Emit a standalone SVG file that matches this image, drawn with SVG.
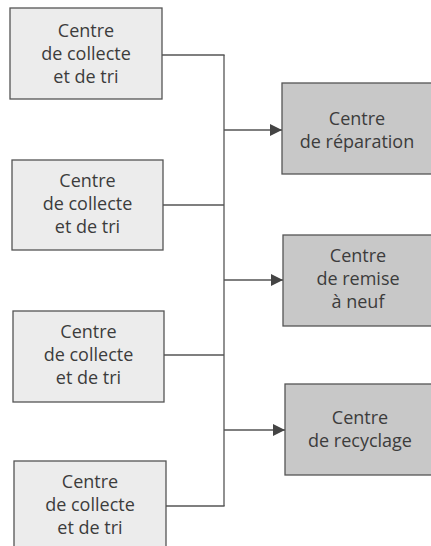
<svg xmlns="http://www.w3.org/2000/svg" width="431" height="546" viewBox="0 0 431 546">
<style>
.src rect{fill:#ececec;stroke:#555;stroke-width:1.3}
.dst rect{fill:#c8c8c8;stroke:#555;stroke-width:1.3}
text{font-family:"Open Sans","Noto Sans",sans-serif;font-size:18px;fill:#3c3c3c;text-anchor:middle}
.conn line{stroke:#555;stroke-width:1.3;fill:none}
</style>
<defs>
<marker id="ah" markerWidth="12" markerHeight="12" viewBox="0 0 12 12" refX="12" refY="6" orient="auto" markerUnits="userSpaceOnUse">
<path d="M0,0 L12,6 L0,12 Z" fill="#444"/>
</marker>
</defs>
<rect width="431" height="546" fill="#fff"/>
<g id="collecte1" class="src"><rect x="10" y="8" width="152" height="91"/>
<text x="86" y="37">Centre</text><text x="86" y="60">de collecte</text><text x="86" y="83">et de tri</text></g>
<g id="collecte2" class="src"><rect x="12" y="160" width="151" height="90"/>
<text x="87.5" y="187">Centre</text><text x="87.5" y="210">de collecte</text><text x="87.5" y="233">et de tri</text></g>
<g id="collecte3" class="src"><rect x="13" y="311" width="151" height="91"/>
<text x="88.5" y="338">Centre</text><text x="88.5" y="361">de collecte</text><text x="88.5" y="384">et de tri</text></g>
<g id="collecte4" class="src"><rect x="14" y="461" width="152" height="92"/>
<text x="90" y="488">Centre</text><text x="90" y="511">de collecte</text><text x="90" y="534">et de tri</text></g>
<g id="reparation" class="dst"><rect x="282" y="83" width="160" height="91"/>
<text x="357" y="125">Centre</text><text x="357" y="148">de réparation</text></g>
<g id="remise" class="dst"><rect x="283" y="235" width="160" height="91"/>
<text x="358" y="262">Centre</text><text x="358" y="285">de remise</text><text x="358" y="308">à neuf</text></g>
<g id="recyclage" class="dst"><rect x="285" y="384" width="160" height="91"/>
<text x="360" y="424">Centre</text><text x="360" y="447">de recyclage</text></g>
<g id="connectors" class="conn">
<line x1="224" y1="55" x2="224" y2="506"/>
<line x1="162" y1="55" x2="224.6" y2="55"/>
<line x1="163" y1="205" x2="224" y2="205"/>
<line x1="164" y1="355" x2="224" y2="355"/>
<line x1="166" y1="506" x2="224.6" y2="506"/>
<line x1="224" y1="130" x2="282" y2="130" marker-end="url(#ah)"/>
<line x1="224" y1="280" x2="283" y2="280" marker-end="url(#ah)"/>
<line x1="224" y1="430" x2="285" y2="430" marker-end="url(#ah)"/>
</g>
</svg>
